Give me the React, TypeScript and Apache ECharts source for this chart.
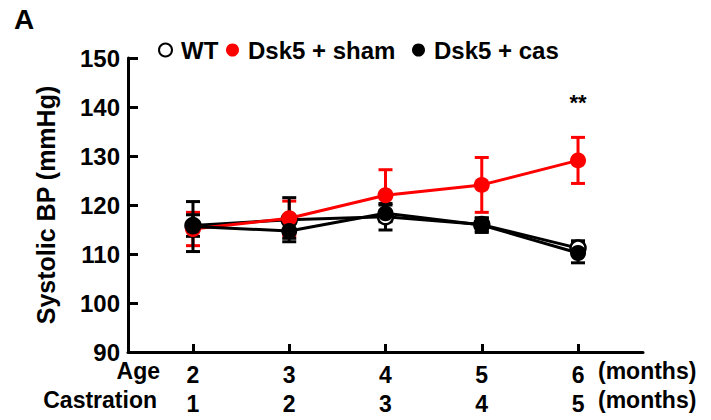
import React, { useEffect, useRef } from "react";
import * as echarts from "echarts";

const ages = [2, 3, 4, 5, 6];
const castrationMonths = [1, 2, 3, 4, 5];
const wtMean = [115.8, 117.0, 117.6, 116.0, 111.2];
const wtErr = [2.2, 4.5, 2.7, 1.3, 1.5];
const shamMean = [115.1, 117.3, 122.0, 124.1, 129.1];
const shamErr = [3.4, 3.5, 5.2, 5.6, 4.7];
const casMean = [115.6, 114.7, 118.3, 115.9, 110.2];
const casErr = [5.1, 1.5, 1.7, 1.5, 2.0];
const yTicks = [90, 100, 110, 120, 130, 140, 150];
const sigText = "**";
const sigValue = 141;

const FONT = "'Liberation Sans', Arial, Helvetica, sans-serif";

function errSeries(name: string, means: number[], errs: number[], color: string, z: number) {
  return {
    type: "custom",
    name: name + "_err",
    silent: true,
    data: ages.map((a, i) => [a, means[i] - errs[i], means[i] + errs[i]]),
    renderItem: (params: any, api: any) => {
      const x = api.value(0);
      const lo = api.coord([x, api.value(1)]);
      const hi = api.coord([x, api.value(2)]);
      const hw = 7;
      const style = { stroke: color, lineWidth: 3, fill: "none" };
      return {
        type: "group",
        children: [
          { type: "line", shape: { x1: lo[0], y1: lo[1], x2: hi[0], y2: hi[1] }, style },
          { type: "line", shape: { x1: lo[0] - hw, y1: lo[1], x2: lo[0] + hw, y2: lo[1] }, style },
          { type: "line", shape: { x1: hi[0] - hw, y1: hi[1], x2: hi[0] + hw, y2: hi[1] }, style },
        ],
      };
    },
    z,
  };
}

export default function App() {
  const ref = useRef<HTMLDivElement>(null);
  useEffect(() => {
    if (!ref.current) return;
    const chart = echarts.init(ref.current, null, { renderer: "svg" });
    const legendText = { color: "#000", fontSize: 24, fontWeight: "bold", fontFamily: FONT, padding: [0, 0, 0, 4] };
    chart.setOption({
      animation: false,
      backgroundColor: "#fff",
      textStyle: { fontFamily: FONT },
      grid: { left: 128, right: 68, top: 58, bottom: 68, containLabel: false },
      legend: [
        { data: ["WT"], left: 153, top: 33, icon: "circle", itemWidth: 13, itemHeight: 13, textStyle: legendText },
        { data: ["Dsk5 + sham"], left: 221, top: 33, icon: "circle", itemWidth: 13, itemHeight: 13, textStyle: legendText },
        { data: ["Dsk5 + cas"], left: 407, top: 33, icon: "circle", itemWidth: 13, itemHeight: 13, textStyle: legendText },
      ],
      xAxis: {
        type: "value",
        min: 1.325,
        max: 6.675,
        splitLine: { show: false },
        axisLine: { lineStyle: { color: "#000", width: 3 } },
        axisTick: { inside: true, length: 8, customValues: ages, lineStyle: { color: "#000", width: 3 } },
        axisLabel: {
          customValues: ages,
          margin: 8,
          color: "#000",
          fontSize: 23,
          fontWeight: "bold",
          lineHeight: 29,
          fontFamily: FONT,
          formatter: (v: number) => {
            const i = ages.indexOf(Math.round(v));
            return i >= 0 ? `${ages[i]}\n${castrationMonths[i]}` : "";
          },
        },
      },
      yAxis: {
        type: "value",
        min: yTicks[0],
        max: yTicks[yTicks.length - 1],
        interval: 10,
        name: "Systolic BP (mmHg)",
        nameLocation: "middle",
        nameGap: 70,
        nameTextStyle: { color: "#000", fontSize: 25, fontWeight: "bold", fontFamily: FONT },
        splitLine: { show: false },
        axisLine: { show: true, lineStyle: { color: "#000", width: 3 } },
        axisTick: { show: true, inside: true, length: 10, lineStyle: { color: "#000", width: 3 } },
        axisLabel: { color: "#000", fontSize: 24, fontWeight: "bold", margin: 8, fontFamily: FONT },
      },
      graphic: [
        { type: "text", left: 14, top: 5, style: { text: "A", fontSize: 28, fontWeight: "bold", fill: "#000", fontFamily: FONT } },
        { type: "text", right: 551, top: 359, style: { text: "Age", fontSize: 23, fontWeight: "bold", fill: "#000", fontFamily: FONT } },
        { type: "text", right: 554, top: 388, style: { text: "Castration", fontSize: 23, fontWeight: "bold", fill: "#000", fontFamily: FONT } },
        { type: "text", left: 598, top: 359, style: { text: "(months)", fontSize: 23, fontWeight: "bold", fill: "#000", fontFamily: FONT } },
        { type: "text", left: 598, top: 388, style: { text: "(months)", fontSize: 23, fontWeight: "bold", fill: "#000", fontFamily: FONT } },
      ],
      series: [
        errSeries("Dsk5 + sham", shamMean, shamErr, "#ff0000", 2),
        errSeries("WT", wtMean, wtErr, "#000", 2),
        errSeries("Dsk5 + cas", casMean, casErr, "#000", 2),
        {
          type: "line",
          name: "WT",
          data: ages.map((a, i) => [a, wtMean[i]]),
          symbol: "circle",
          symbolSize: 15,
          lineStyle: { color: "#000", width: 3 },
          itemStyle: { color: "#fff", borderColor: "#000", borderWidth: 2.5 },
          z: 3,
        },
        {
          type: "line",
          name: "Dsk5 + sham",
          data: ages.map((a, i) => [a, shamMean[i]]),
          symbol: "circle",
          symbolSize: 16,
          lineStyle: { color: "#ff0000", width: 3 },
          itemStyle: { color: "#ff0000" },
          z: 4,
          markPoint: {
            symbol: "circle",
            symbolSize: 0,
            data: [{ coord: [ages[ages.length - 1], sigValue], value: sigText }],
            label: { show: true, formatter: sigText, color: "#000", fontSize: 22, fontWeight: "bold", fontFamily: FONT },
          },
        },
        {
          type: "line",
          name: "Dsk5 + cas",
          data: ages.map((a, i) => [a, casMean[i]]),
          symbol: "circle",
          symbolSize: 16,
          lineStyle: { color: "#000", width: 3 },
          itemStyle: { color: "#000" },
          z: 5,
        },
      ],
    });
    return () => chart.dispose();
  }, []);
  return <div ref={ref} style={{ width: 711, height: 420, position: "absolute", left: 0, top: 0 }} />;
}
